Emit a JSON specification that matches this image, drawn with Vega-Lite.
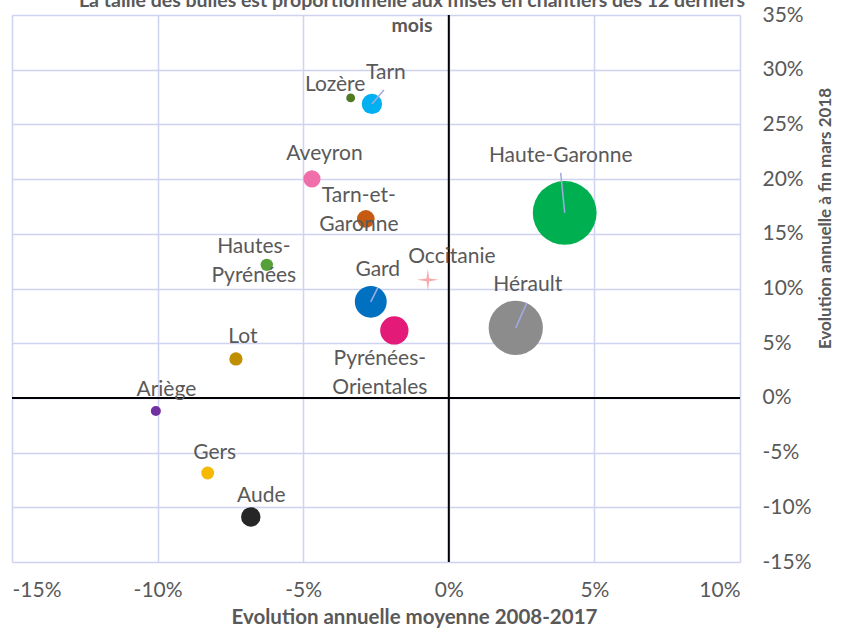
{
  "$schema": "https://vega.github.io/schema/vega-lite/v6.json",
  "width": 728,
  "height": 547,
  "autosize": {"type": "none"},
  "padding": {"left": 12, "top": 15, "right": 108, "bottom": 66},
  "background": "white",
  "title": {
    "text": ["La taille des bulles est proportionnelle aux mises en chantiers des 12 derniers", "mois"],
    "anchor": "middle",
    "font": "Lato",
    "fontSize": 19.5,
    "fontWeight": "bold",
    "color": "#595959",
    "lineHeight": 25,
    "offset": 0,
    "dx": 36,
    "dy": 32,
    "baseline": "top"
  },
  "config": {
    "view": {"stroke": null},
    "axis": {
      "grid": true,
      "gridColor": "#cfd3f0",
      "gridWidth": 1.5,
      "domain": false,
      "ticks": false,
      "labelFont": "Lato",
      "labelFontSize": 21,
      "labelColor": "#595959",
      "titleFont": "Lato",
      "titleFontWeight": "bold",
      "titleColor": "#595959"
    },
    "text": {
      "font": "Lato",
      "fontSize": 21,
      "color": "#595959",
      "lineBreak": "\n",
      "lineHeight": 29,
      "align": "center",
      "baseline": "middle"
    }
  },
  "data": {
    "values": [
      {"name": "Haute-Garonne", "label": "Haute-Garonne", "niveau": "Département", "x": 0.0398, "y": 0.1691, "mises": 13000},
      {"name": "Hérault", "label": "Hérault", "niveau": "Département", "x": 0.0230, "y": 0.0640, "mises": 9400},
      {"name": "Gard", "label": "Gard", "niveau": "Département", "x": -0.0268, "y": 0.0878, "mises": 3240},
      {"name": "Pyrénées-Orientales", "label": "Pyrénées-\nOrientales", "niveau": "Département", "x": -0.0187, "y": 0.0617, "mises": 2560},
      {"name": "Tarn", "label": "Tarn", "niveau": "Département", "x": -0.0264, "y": 0.2687, "mises": 1320},
      {"name": "Lozère", "label": "Lozère", "niveau": "Département", "x": -0.0337, "y": 0.2742, "mises": 250},
      {"name": "Aveyron", "label": "Aveyron", "niveau": "Département", "x": -0.0470, "y": 0.2002, "mises": 940},
      {"name": "Tarn-et-Garonne", "label": "Tarn-et-\nGaronne", "niveau": "Département", "x": -0.0285, "y": 0.1636, "mises": 1000},
      {"name": "Hautes-Pyrénées", "label": "Hautes-\nPyrénées", "niveau": "Département", "x": -0.0625, "y": 0.1216, "mises": 490},
      {"name": "Lot", "label": "Lot", "niveau": "Département", "x": -0.0731, "y": 0.0356, "mises": 560},
      {"name": "Ariège", "label": "Ariège", "niveau": "Département", "x": -0.1006, "y": -0.0119, "mises": 320},
      {"name": "Gers", "label": "Gers", "niveau": "Département", "x": -0.0828, "y": -0.0686, "mises": 530},
      {"name": "Aude", "label": "Aude", "niveau": "Département", "x": -0.0680, "y": -0.1088, "mises": 1210},
      {"name": "Occitanie", "label": "Occitanie", "niveau": "Région", "x": -0.0072, "y": 0.1079, "mises": 34800}
    ]
  },
  "layer": [
    {
      "data": {"values": [{}]},
      "mark": {"type": "rule", "color": "#000000", "strokeWidth": 2},
      "encoding": {"x": {"datum": 0, "type": "quantitative"}}
    },
    {
      "data": {"values": [{}]},
      "mark": {"type": "rule", "color": "#000000", "strokeWidth": 2},
      "encoding": {"y": {"datum": 0, "type": "quantitative"}}
    },
    {
      "encoding": {
        "x": {
          "field": "x",
          "type": "quantitative",
          "scale": {"domain": [-0.15, 0.1], "nice": false, "zero": false},
          "axis": {
            "values": [-0.15, -0.1, -0.05, 0, 0.05, 0.1],
            "labelExpr": "round(datum.value * 100) + '%'",
            "labelPadding": 17,
            "title": "Evolution annuelle moyenne 2008-2017",
            "titleFontSize": 20.5,
            "titleX": 402,
            "titlePadding": 7
          }
        },
        "y": {
          "field": "y",
          "type": "quantitative",
          "scale": {"domain": [-0.15, 0.35], "nice": false, "zero": false},
          "axis": {
            "orient": "right",
            "values": [-0.15, -0.1, -0.05, 0, 0.05, 0.1, 0.15, 0.2, 0.25, 0.3, 0.35],
            "labelExpr": "round(datum.value * 100) + '%'",
            "labelAlign": "left",
            "labelPadding": 22,
            "title": "Evolution annuelle à fin mars 2018",
            "titleFontSize": 17,
            "titleAngle": 270,
            "titleX": 85,
            "titleY": 203,
            "titleAlign": "center",
            "titleBaseline": "middle"
          }
        }
      },
      "layer": [
        {
          "transform": [{"filter": "datum.niveau === 'Département'"}],
          "mark": {"type": "circle", "opacity": 1, "stroke": null},
          "encoding": {
            "size": {
              "field": "mises",
              "type": "quantitative",
              "scale": {"domain": [0, 13000], "range": [0, 4072]},
              "legend": null
            },
            "color": {
              "field": "name",
              "type": "nominal",
              "legend": null,
              "scale": {
                "domain": ["Haute-Garonne", "Hérault", "Gard", "Pyrénées-Orientales", "Tarn", "Lozère", "Aveyron", "Tarn-et-Garonne", "Hautes-Pyrénées", "Lot", "Ariège", "Gers", "Aude"],
                "range": ["#00b050", "#8c8c8c", "#0070c0", "#e31a77", "#00b0f0", "#4f7a21", "#f06eaa", "#c55a11", "#56a03a", "#bf8f00", "#7030a0", "#f4b900", "#262626"]
              }
            }
          }
        },
        {
          "transform": [{"filter": "datum.niveau === 'Région'"}],
          "mark": {
            "type": "point",
            "filled": true,
            "opacity": 1,
            "color": "#f9a9a9",
            "size": 484,
            "shape": "M0,-1L0.12,-0.12L1,0L0.12,0.12L0,1L-0.12,0.12L-1,0L-0.12,-0.12Z"
          }
        },
        {
          "transform": [{"filter": "datum.name === 'Tarn'"}],
          "mark": {"type": "rule", "color": "#a3aae3", "strokeWidth": 1.5, "x2Offset": 12, "y2Offset": -14},
          "encoding": {"x2": {"field": "x"}, "y2": {"field": "y"}}
        },
        {
          "transform": [{"filter": "datum.name === 'Haute-Garonne'"}],
          "mark": {"type": "rule", "color": "#a3aae3", "strokeWidth": 1.5, "x2Offset": -4, "y2Offset": -40},
          "encoding": {"x2": {"field": "x"}, "y2": {"field": "y"}}
        },
        {
          "transform": [{"filter": "datum.name === 'Hérault'"}],
          "mark": {"type": "rule", "color": "#a3aae3", "strokeWidth": 1.5, "x2Offset": 11, "y2Offset": -25},
          "encoding": {"x2": {"field": "x"}, "y2": {"field": "y"}}
        },
        {
          "transform": [{"filter": "datum.name === 'Gard'"}],
          "mark": {"type": "rule", "color": "#a3aae3", "strokeWidth": 1.5, "x2Offset": 7, "y2Offset": -14},
          "encoding": {"x2": {"field": "x"}, "y2": {"field": "y"}}
        },
        {"transform": [{"filter": "datum.name === 'Lozère'"}], "mark": {"type": "text", "dx": -15.5, "dy": -13}, "encoding": {"text": {"field": "label"}}},
        {"transform": [{"filter": "datum.name === 'Tarn'"}], "mark": {"type": "text", "dx": 14, "dy": -31}, "encoding": {"text": {"field": "label"}}},
        {"transform": [{"filter": "datum.name === 'Aveyron'"}], "mark": {"type": "text", "dx": 12.5, "dy": -25}, "encoding": {"text": {"field": "label"}}},
        {"transform": [{"filter": "datum.name === 'Tarn-et-Garonne'"}], "mark": {"type": "text", "dx": -7, "dy": -22.5}, "encoding": {"text": {"field": "label"}}},
        {"transform": [{"filter": "datum.name === 'Hautes-Pyrénées'"}], "mark": {"type": "text", "dx": -13, "dy": -18}, "encoding": {"text": {"field": "label"}}},
        {"transform": [{"filter": "datum.name === 'Haute-Garonne'"}], "mark": {"type": "text", "dx": -4, "dy": -57}, "encoding": {"text": {"field": "label"}}},
        {"transform": [{"filter": "datum.name === 'Occitanie'"}], "mark": {"type": "text", "dx": 24, "dy": -23}, "encoding": {"text": {"field": "label"}}},
        {"transform": [{"filter": "datum.name === 'Gard'"}], "mark": {"type": "text", "dx": 7, "dy": -32}, "encoding": {"text": {"field": "label"}}},
        {"transform": [{"filter": "datum.name === 'Hérault'"}], "mark": {"type": "text", "dx": 12, "dy": -43}, "encoding": {"text": {"field": "label"}}},
        {"transform": [{"filter": "datum.name === 'Pyrénées-Orientales'"}], "mark": {"type": "text", "dx": -14.5, "dy": 28.5}, "encoding": {"text": {"field": "label"}}},
        {"transform": [{"filter": "datum.name === 'Lot'"}], "mark": {"type": "text", "dx": 7, "dy": -22}, "encoding": {"text": {"field": "label"}}},
        {"transform": [{"filter": "datum.name === 'Ariège'"}], "mark": {"type": "text", "dx": 10.5, "dy": -21}, "encoding": {"text": {"field": "label"}}},
        {"transform": [{"filter": "datum.name === 'Gers'"}], "mark": {"type": "text", "dx": 7, "dy": -20}, "encoding": {"text": {"field": "label"}}},
        {"transform": [{"filter": "datum.name === 'Aude'"}], "mark": {"type": "text", "dx": 10.5, "dy": -21}, "encoding": {"text": {"field": "label"}}}
      ]
    }
  ]
}
